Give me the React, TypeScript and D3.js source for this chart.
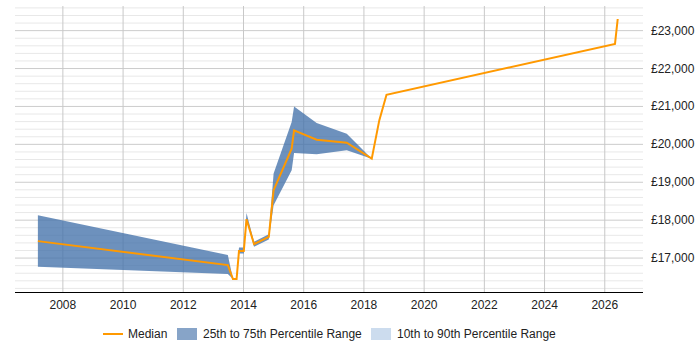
import * as d3 from "d3";

// decimal years of each observation
const years = [
  2007.17, 2013.48, 2013.65, 2013.77, 2013.85, 2014.01, 2014.1, 2014.35, 2014.84, 2015.0,
  2015.6, 2015.68, 2016.43, 2017.43, 2018.26, 2018.51, 2018.75, 2026.34, 2026.43,
];
const median = [
  17447, 16816, 16447, 16447, 17184, 17184, 18026, 17368, 17560, 18790,
  19887, 20368, 20123, 20044, 19623, 20632, 21308, 22650, 23307,
];
// 25th / 75th percentile, only known up to 2018
const p75 = [
  18132, 17079, 16447, 16447, 17280, 17280, 18190, 17430, 17630, 19230,
  20587, 21000, 20561, 20281, 19623,
];
const p25 = [
  16772, 16579, 16447, 16447, 17120, 17120, 18026, 17300, 17490, 18395,
  19316, 19771, 19737, 19842, 19623,
];
const xTicks = [2008, 2010, 2012, 2014, 2016, 2018, 2020, 2022, 2024, 2026];
const yTicks = [17000, 18000, 19000, 20000, 21000, 22000, 23000];

const W = 700;
const H = 350;
const left = 15;
const right = 643;
const top = 6;
const bottom = 292;

export default function App() {
  const x = d3.scaleLinear().domain([2006.41, 2027.27]).range([left, right]);
  const y = d3.scaleLinear().domain([16105, 23650]).range([bottom, top]);

  const minor = d3.range(16200, 23651, 200).filter((v) => v % 1000 !== 0);

  const band = d3
    .area<number>()
    .x((i) => x(years[i]))
    .y0((i) => y(p25[i]))
    .y1((i) => y(p75[i]));
  const line = d3
    .line<number>()
    .x((i) => x(years[i]))
    .y((i) => y(median[i]));

  const font = "'Liberation Sans', Arial, sans-serif";

  return (
    <svg
      width={W}
      height={H}
      style={{ position: "absolute", left: 0, top: 0 }}
      fontFamily={font}
      fontSize={12}
    >
      {minor.map((v) => (
        <line key={"m" + v} x1={left} x2={right} y1={y(v)} y2={y(v)} stroke="#e8e8e8" />
      ))}
      {yTicks.map((v) => (
        <line key={"g" + v} x1={left} x2={right} y1={y(v)} y2={y(v)} stroke="#cccccc" />
      ))}
      {xTicks.map((t) => (
        <line key={"v" + t} x1={x(t)} x2={x(t)} y1={top} y2={bottom} stroke="#c8c8c8" />
      ))}

      <path d={band(d3.range(p75.length)) || ""} fill="#4472aa" fillOpacity={0.78} />
      <path
        d={line(d3.range(median.length)) || ""}
        fill="none"
        stroke="#ff9900"
        strokeWidth={2}
        strokeLinejoin="miter"
      />

      <line x1={left} x2={right} y1={bottom + 0.5} y2={bottom + 0.5} stroke="#000" />
      {xTicks.map((t) => (
        <text key={"xt" + t} x={x(t)} y={bottom + 17} textAnchor="middle" fill="#222">
          {t}
        </text>
      ))}
      {yTicks.map((v) => (
        <text key={"yt" + v} x={651} y={y(v) + 4} fill="#222">
          {"£" + d3.format(",")(v)}
        </text>
      ))}

      <g transform="translate(0,334)">
        <line x1={103} x2={123} y1={0} y2={0} stroke="#ff9900" strokeWidth={2} />
        <text x={128} y={4} fill="#222">Median</text>
        <rect x={177} y={-6} width={20} height={12} fill="#87a4c8" />
        <text x={203} y={4} fill="#222">25th to 75th Percentile Range</text>
        <rect x={371} y={-6} width={20} height={12} fill="#ccdcee" />
        <text x={397} y={4} fill="#222">10th to 90th Percentile Range</text>
      </g>
    </svg>
  );
}
